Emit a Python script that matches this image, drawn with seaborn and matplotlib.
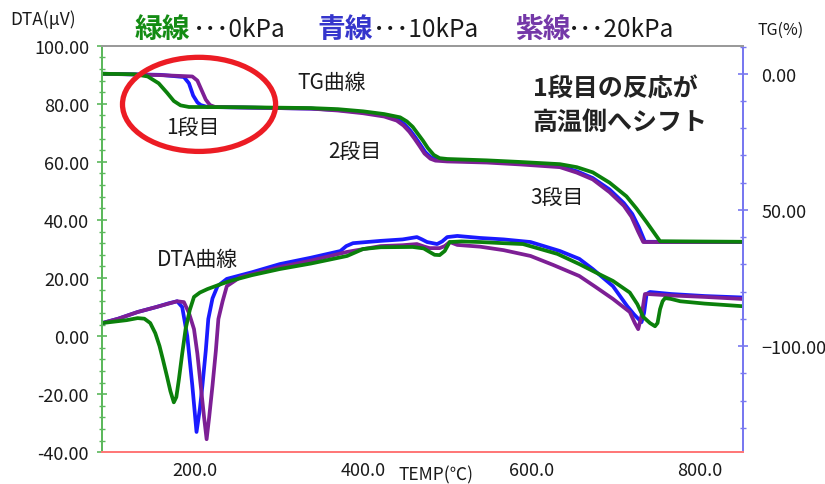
import matplotlib
matplotlib.use('Agg')
import matplotlib.pyplot as plt
from matplotlib.patches import Ellipse
from matplotlib.ticker import MultipleLocator
import seaborn as sns
import pandas as pd

# --- data ---
runs = ['0kPa', '10kPa', '20kPa']

# DTA curves (uV)
t_dta_0 = [90, 119, 132, 140, 147, 153, 158, 162, 167, 171, 175, 178, 181, 185, 189, 194, 199, 206, 215, 229, 242,
           268, 301, 338, 381, 400, 421, 459, 472, 479, 485, 491, 497, 503, 517, 539, 567, 590, 607, 631, 657,
           676, 697, 717, 726, 733, 741, 747, 750, 753, 756, 759, 766, 777, 806, 851]
dta_0 = [4.5, 5.5, 6.2, 6.0, 4.5, 1.0, -3.4, -8, -14, -19, -22.8, -21, -15, -6, 2.4, 9, 13.5, 15, 16.2, 17.7, 19,
         21, 23.1, 25, 27.6, 30, 30.6, 30.7, 30.2, 29, 28, 27.9, 29.3, 32.4, 32.6, 32.4, 32, 31.7, 30.3, 28.3, 24.8,
         22, 19, 15, 11, 6.6, 4.5, 3.4, 4.5, 9.3, 12, 13.1, 12.8, 12, 11.2, 10.3]

t_dta_10 = [90, 109, 132, 154, 169, 179, 185, 191, 197, 202, 206, 209, 213, 216, 221, 227, 238, 268, 301, 338,
            373, 380, 388, 421, 447, 464, 470, 476, 488, 494, 500, 512, 539, 567, 599, 634, 657, 673, 697, 714,
            722, 731, 734, 737, 741, 766, 806, 851]
dta_10 = [4.5, 6, 8.3, 10, 11.3, 12, 10, 0, -17, -33, -25, -17, -5, 5.9, 13, 17.2, 19.7, 22, 24.8, 27,
          29.3, 31, 32, 32.8, 33.3, 34.1, 33.3, 32.4, 31.7, 32.6, 34.1, 34.5, 33.8, 33.3, 32.4, 29.3, 26.6, 23.1, 17.2, 10.3,
          7.5, 4.8, 8, 14.5, 15.2, 14.5, 13.8, 13.3]

t_dta_20 = [90, 109, 132, 154, 169, 179, 187, 193, 199, 203, 207, 211, 214, 217, 221, 225, 228, 233, 238, 254,
            301, 338, 381, 421, 447, 464, 473, 479, 491, 497, 503, 512, 539, 567, 599, 626, 657, 676, 697, 717,
            723, 727, 731, 735, 738, 766, 806, 851]
dta_20 = [4.5, 6, 8.3, 10, 11.2, 12, 11.7, 8, 2.4, -6, -17, -28, -35.5, -28, -17, -5, 5.9, 12, 17.2, 20.3,
          23.8, 26, 29, 31, 31.3, 31.7, 30.8, 30.3, 30.3, 31, 32.4, 31.4, 30.8, 29.6, 27.6, 24.5, 20.7, 17, 12.8, 8.3,
          4.5, 2.4, 7, 14.5, 14.5, 14, 13.5, 12.8]

# TG curves (% mass loss)
t_tg_0 = [90, 129, 144, 157, 167, 175, 183, 193, 258, 338, 370, 400, 425, 444, 452, 459, 465, 471, 477, 484,
          491, 500, 547, 587, 634, 654, 673, 693, 713, 725, 737, 745, 753, 851]
tg_0 = [0, 0.2, 1, 3.5, 7, 10, 11.6, 12.2, 12.3, 12.6, 13.0, 13.8, 14.8, 16.0, 17.5, 19.5, 22, 24.5, 27.3, 29.8,
        31, 31.3, 31.8, 32.4, 33.2, 34.3, 36.2, 40, 45, 49.5, 54.5, 58, 61.5, 61.7]

t_tg_10 = [90, 159, 187, 193, 198, 203, 207, 215, 258, 338, 370, 400, 425, 441, 449, 456, 462, 468, 474, 481,
           488, 500, 547, 587, 634, 654, 673, 693, 710, 720, 728, 735, 851]
tg_10 = [0, 0.4, 1.2, 3.5, 8, 10.5, 11.5, 12.2, 12.4, 12.8, 13.3, 14.2, 15.3, 16.7, 18.5, 20.8, 23.3, 26, 28.8, 30.8,
         31.5, 31.9, 32.3, 32.9, 34, 35.8, 38.3, 42.5, 47.5, 51.5, 56.5, 61.7, 61.8]

t_tg_20 = [90, 159, 197, 203, 208, 213, 218, 224, 258, 338, 370, 400, 425, 440, 448, 455, 461, 467, 473, 480,
           486, 500, 547, 587, 634, 654, 673, 693, 710, 719, 727, 733, 851]
tg_20 = [0, 0.5, 1, 2.5, 6, 9.5, 11.5, 12.2, 12.4, 12.8, 13.5, 14.5, 15.7, 17.2, 19, 21.3, 23.8, 26.5, 29.3, 31.2,
         31.9, 32.2, 32.6, 33.3, 34.3, 36.3, 38.8, 43.5, 48.5, 52.5, 58, 61.8, 61.8]

x_ticks = [200, 400, 600, 800]
dta_ticks = [-40, -20, 0, 20, 40, 60, 80, 100]
tg_ticks = [0, 50, 100]
tg_tick_labels = ['0.00', '50.00', '\u2212100.00']

palette = {'0kPa': '#0b800b', '10kPa': '#1a1aff', '20kPa': '#7d1f95'}

dta_df = pd.concat([
    pd.DataFrame({'temp': t_dta_0, 'dta': dta_0, 'run': '0kPa'}),
    pd.DataFrame({'temp': t_dta_10, 'dta': dta_10, 'run': '10kPa'}),
    pd.DataFrame({'temp': t_dta_20, 'dta': dta_20, 'run': '20kPa'}),
])
tg_df = pd.concat([
    pd.DataFrame({'temp': t_tg_0, 'tg': tg_0, 'run': '0kPa'}),
    pd.DataFrame({'temp': t_tg_10, 'tg': tg_10, 'run': '10kPa'}),
    pd.DataFrame({'temp': t_tg_20, 'tg': tg_20, 'run': '20kPa'}),
])

sns.set_style('white')
plt.rcParams['font.family'] = ['Noto Sans CJK JP', 'DejaVu Sans']

fig = plt.figure(figsize=(8.25, 4.85), dpi=100)
ax = fig.add_axes([0.124, 0.0654, 0.776, 0.8383])
order = ['10kPa', '20kPa', '0kPa']
sns.lineplot(data=dta_df, x='temp', y='dta', hue='run', hue_order=order, palette=palette,
             estimator=None, sort=False, lw=2.7, legend=False, ax=ax)
ax2 = ax.twinx()
sns.lineplot(data=tg_df, x='temp', y='tg', hue='run', hue_order=order, palette=palette,
             estimator=None, sort=False, lw=2.7, legend=False, ax=ax2)
for line in ax.lines + ax2.lines:
    line.set_solid_joinstyle('round')

ax.set_xlim(90, 851)
ax.set_ylim(-40, 100)
ax2.set_ylim(139, -10.3)

ax.set_xticks(x_ticks)
ax.set_xticklabels([f'{v:.1f}' for v in x_ticks])
ax.xaxis.set_minor_locator(MultipleLocator(40))
ax.set_yticks(dta_ticks)
ax.set_yticklabels([f'{v:.2f}' for v in dta_ticks])
ax.yaxis.set_minor_locator(MultipleLocator(4))
ax2.set_yticks(tg_ticks)
ax2.set_yticklabels(tg_tick_labels)
ax2.yaxis.set_minor_locator(MultipleLocator(10))
ax.set_xlabel('')
ax.set_ylabel('')
ax2.set_ylabel('')

for a in (ax, ax2):
    a.spines['left'].set_color('#5cb85c')
    a.spines['bottom'].set_color('#ff7878')
    a.spines['right'].set_color('#7878f0')
    a.spines['top'].set_color('#9a9a9a')
    for s in a.spines.values():
        s.set_linewidth(1.4)

ax.tick_params(axis='x', which='both', direction='inout', colors='#ff7878', labelcolor='#1a1a1a',
               labelsize=13, pad=3)
ax.tick_params(axis='x', which='major', length=7, width=1.2)
ax.tick_params(axis='x', which='minor', length=5, width=1)
ax.tick_params(axis='y', which='both', direction='inout', colors='#5cb85c', labelcolor='#1a1a1a',
               labelsize=13, pad=6)
ax.tick_params(axis='y', which='major', length=7, width=1.2)
ax.tick_params(axis='y', which='minor', length=5, width=1)
ax2.tick_params(axis='y', which='both', direction='inout', colors='#7878f0', labelcolor='#1a1a1a',
                labelsize=13, pad=10)
ax2.tick_params(axis='y', which='major', length=7, width=1.2)
ax2.tick_params(axis='y', which='minor', length=5, width=1)

# red ellipse around the first step
ax2.add_patch(Ellipse((205, 79.8), 182, 32.4, transform=ax.transData, fill=False,
                      ec='#ec1c24', lw=3.8, zorder=10, clip_on=False))


def px(x, y):
    return x / 825, 1 - y / 485


fig.text(*px(10, 20), 'DTA(μV)', fontsize=12.5, va='center', ha='left', color='#1a1a1a')
fig.text(*px(758, 30), 'TG(%)', fontsize=11.5, va='center', ha='left', color='#1a1a1a')
fig.text(*px(436, 475), 'TEMP(℃)', fontsize=12.5, va='center', ha='center', color='#1a1a1a')

title_parts = [
    (135, '緑線', '#148c14', 'bold', 20),
    (193, '･･･0kPa', '#1a1a1a', 'normal', 17.5),
    (317, '青線', '#3535cc', 'bold', 20),
    (373, '･･･10kPa', '#1a1a1a', 'normal', 17.5),
    (515, '紫線', '#7438a8', 'bold', 20),
    (568, '･･･20kPa', '#1a1a1a', 'normal', 17.5),
]
for x, s, c, w, fs in title_parts:
    fig.text(*px(x, 30), s, color=c, fontweight=w, fontsize=fs, va='center', ha='left')

fig.text(*px(297, 83), 'TG曲線', fontsize=15, va='center', ha='left', color='#1a1a1a')
fig.text(*px(166, 128), '1段目', fontsize=15, va='center', ha='left', color='#1a1a1a')
fig.text(*px(328, 152), '2段目', fontsize=15, va='center', ha='left', color='#1a1a1a')
fig.text(*px(530, 198), '3段目', fontsize=15, va='center', ha='left', color='#1a1a1a')
fig.text(*px(157, 260), 'DTA曲線', fontsize=15, va='center', ha='left', color='#1a1a1a')
fig.text(*px(533, 90), '1段目の反応が', fontsize=18, fontweight='bold', va='center', ha='left', color='#222222')
fig.text(*px(533, 123), '高温側へシフト', fontsize=18, fontweight='bold', va='center', ha='left', color='#222222')

fig.savefig('out.png', dpi=100)
